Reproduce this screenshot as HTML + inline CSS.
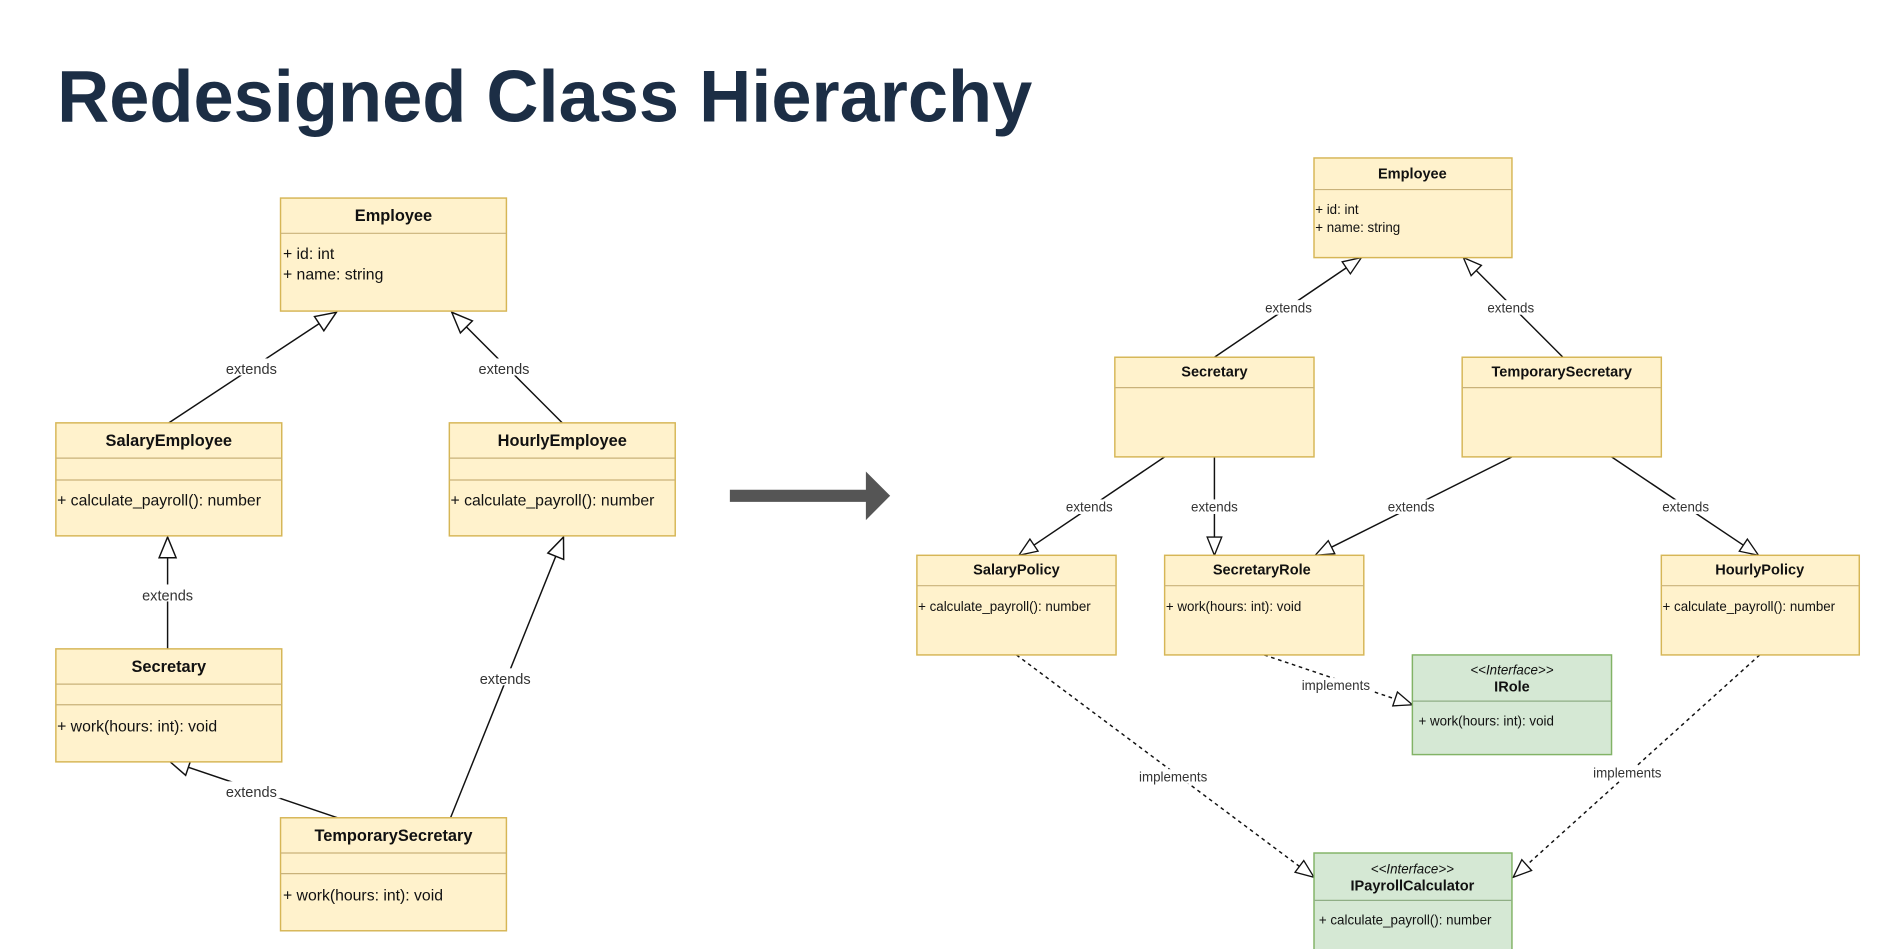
<!DOCTYPE html>
<html><head><meta charset="utf-8"><style>
html,body{margin:0;padding:0;background:#fff;width:1886px;height:949px;overflow:hidden}
svg{display:block}
text{font-family:"Liberation Sans",Arial,sans-serif;fill:#111}
.b{fill:#fff2cc;stroke:#d6b656;stroke-width:1.2}
.g{fill:#d5e8d4;stroke:#82b366;stroke-width:1.2}
.sl{stroke:#c9b27a;stroke-width:1}
.sg{stroke:#8fae85;stroke-width:1}
.e{stroke:#111;stroke-width:1.2;fill:none}
.d{stroke:#111;stroke-width:1.2;fill:none;stroke-dasharray:3 3}
.lbl{font-size:12px;fill:#333}
.lbr{font-size:11px;fill:#333}
</style></head><body>
<svg width="1886" height="949" viewBox="0 0 1553 781" preserveAspectRatio="none" xmlns="http://www.w3.org/2000/svg">
<defs>
<marker id="t" markerUnits="userSpaceOnUse" markerWidth="24" markerHeight="24" refX="18" refY="8" orient="auto" viewBox="0 0 24 16">
<path d="M1,1 L18,8 L1,15 Z" fill="#fff" stroke="#111" stroke-width="1.2"/></marker>
<marker id="ts" markerUnits="userSpaceOnUse" markerWidth="20" markerHeight="20" refX="16" refY="7" orient="auto" viewBox="0 0 20 14">
<path d="M1,1 L16,7 L1,13 Z" fill="#fff" stroke="#111" stroke-width="1.1"/></marker>
</defs>
<text x="47" y="100" font-size="60" font-weight="bold" style="fill:#1c2e45" textLength="803" lengthAdjust="spacingAndGlyphs">Redesigned Class Hierarchy</text>

<!-- left connectors -->
<line class="e" x1="139" y1="348" x2="277" y2="257" marker-end="url(#t)"/>
<line class="e" x1="463" y1="348" x2="372" y2="257" marker-end="url(#t)"/>
<line class="e" x1="138" y1="534" x2="138" y2="442" marker-end="url(#t)"/>
<line class="e" x1="278" y1="673" x2="139" y2="626" marker-end="url(#t)"/>
<line class="e" x1="371" y1="673" x2="464" y2="442" marker-end="url(#t)"/>
<g class="lbl" text-anchor="middle">
<rect x="183" y="295" width="48" height="14" fill="#fff"/><text class="lbl" x="207" y="308">extends</text>
<rect x="391" y="295" width="48" height="14" fill="#fff"/><text class="lbl" x="415" y="308">extends</text>
<rect x="114" y="481" width="48" height="14" fill="#fff"/><text class="lbl" x="138" y="494">extends</text>
<rect x="183" y="643" width="48" height="14" fill="#fff"/><text class="lbl" x="207" y="656">extends</text>
<rect x="392" y="550" width="48" height="14" fill="#fff"/><text class="lbl" x="416" y="563">extends</text>
</g>

<!-- left boxes -->
<g font-size="13">
<rect class="b" x="231" y="163" width="186" height="93"/><line class="sl" x1="231" y1="192" x2="417" y2="192"/>
<text x="324" y="182" text-anchor="middle" font-weight="bold" font-size="13.5">Employee</text>
<text x="233" y="213">+ id: int</text><text x="233" y="230">+ name: string</text>

<rect class="b" x="46" y="348" width="186" height="93"/><line class="sl" x1="46" y1="377" x2="232" y2="377"/><line class="sl" x1="46" y1="395" x2="232" y2="395"/>
<text x="139" y="367" text-anchor="middle" font-weight="bold" font-size="13.5">SalaryEmployee</text>
<text x="47" y="416">+ calculate_payroll(): number</text>

<rect class="b" x="370" y="348" width="186" height="93"/><line class="sl" x1="370" y1="377" x2="556" y2="377"/><line class="sl" x1="370" y1="395" x2="556" y2="395"/>
<text x="463" y="367" text-anchor="middle" font-weight="bold" font-size="13.5">HourlyEmployee</text>
<text x="371" y="416">+ calculate_payroll(): number</text>

<rect class="b" x="46" y="534" width="186" height="93"/><line class="sl" x1="46" y1="563" x2="232" y2="563"/><line class="sl" x1="46" y1="580" x2="232" y2="580"/>
<text x="139" y="553" text-anchor="middle" font-weight="bold" font-size="13.5">Secretary</text>
<text x="47" y="602">+ work(hours: int): void</text>

<rect class="b" x="231" y="673" width="186" height="93"/><line class="sl" x1="231" y1="702" x2="417" y2="702"/><line class="sl" x1="231" y1="719" x2="417" y2="719"/>
<text x="324" y="692" text-anchor="middle" font-weight="bold" font-size="13.5">TemporarySecretary</text>
<text x="233" y="741">+ work(hours: int): void</text>
</g>

<!-- big arrow -->
<path d="M601,403 L713,403 L713,388 L733,408 L713,428 L713,413 L601,413 Z" fill="#555"/>

<!-- right connectors -->
<line class="e" x1="1000" y1="294" x2="1121" y2="212" marker-end="url(#ts)"/>
<line class="e" x1="1287" y1="294" x2="1205" y2="212" marker-end="url(#ts)"/>
<line class="e" x1="959" y1="376" x2="839" y2="457" marker-end="url(#ts)"/>
<line class="e" x1="1000" y1="376" x2="1000" y2="457" marker-end="url(#ts)"/>
<line class="e" x1="1245" y1="376" x2="1083" y2="457" marker-end="url(#ts)"/>
<line class="e" x1="1327" y1="376" x2="1448" y2="457" marker-end="url(#ts)"/>
<line class="d" x1="1041" y1="539" x2="1163" y2="580" marker-end="url(#ts)"/>
<line class="d" x1="837" y1="539" x2="1082" y2="722" marker-end="url(#ts)"/>
<line class="d" x1="1449" y1="539" x2="1246" y2="722" marker-end="url(#ts)"/>
<g text-anchor="middle">
<rect x="1040" y="247" width="42" height="12" fill="#fff"/><text class="lbr" x="1061" y="257">extends</text>
<rect x="1223" y="247" width="42" height="12" fill="#fff"/><text class="lbr" x="1244" y="257">extends</text>
<rect x="876" y="411" width="42" height="12" fill="#fff"/><text class="lbr" x="897" y="421">extends</text>
<rect x="979" y="411" width="42" height="12" fill="#fff"/><text class="lbr" x="1000" y="421">extends</text>
<rect x="1141" y="411" width="42" height="12" fill="#fff"/><text class="lbr" x="1162" y="421">extends</text>
<rect x="1367" y="411" width="42" height="12" fill="#fff"/><text class="lbr" x="1388" y="421">extends</text>
<rect x="1068" y="558" width="64" height="12" fill="#fff"/><text class="lbr" x="1100" y="568">implements</text>
<rect x="934" y="633" width="64" height="12" fill="#fff"/><text class="lbr" x="966" y="643">implements</text>
<rect x="1308" y="630" width="64" height="12" fill="#fff"/><text class="lbr" x="1340" y="640">implements</text>
</g>

<!-- right boxes -->
<g font-size="11">
<rect class="b" x="1082" y="130" width="163" height="82"/><line class="sl" x1="1082" y1="156" x2="1245" y2="156"/>
<text x="1163" y="147" text-anchor="middle" font-weight="bold" font-size="12">Employee</text>
<text x="1083" y="176">+ id: int</text><text x="1083" y="191">+ name: string</text>

<rect class="b" x="918" y="294" width="164" height="82"/><line class="sl" x1="918" y1="319" x2="1082" y2="319"/>
<text x="1000" y="310" text-anchor="middle" font-weight="bold" font-size="12">Secretary</text>

<rect class="b" x="1204" y="294" width="164" height="82"/><line class="sl" x1="1204" y1="319" x2="1368" y2="319"/>
<text x="1286" y="310" text-anchor="middle" font-weight="bold" font-size="12">TemporarySecretary</text>

<rect class="b" x="755" y="457" width="164" height="82"/><line class="sl" x1="755" y1="482" x2="919" y2="482"/>
<text x="837" y="473" text-anchor="middle" font-weight="bold" font-size="12">SalaryPolicy</text>
<text x="756" y="503">+ calculate_payroll(): number</text>

<rect class="b" x="959" y="457" width="164" height="82"/><line class="sl" x1="959" y1="482" x2="1123" y2="482"/>
<text x="1039" y="473" text-anchor="middle" font-weight="bold" font-size="12">SecretaryRole</text>
<text x="960" y="503">+ work(hours: int): void</text>

<rect class="b" x="1368" y="457" width="163" height="82"/><line class="sl" x1="1368" y1="482" x2="1531" y2="482"/>
<text x="1449" y="473" text-anchor="middle" font-weight="bold" font-size="12">HourlyPolicy</text>
<text x="1369" y="503">+ calculate_payroll(): number</text>

<rect class="g" x="1163" y="539" width="164" height="82"/><line class="sg" x1="1163" y1="577" x2="1327" y2="577"/>
<text x="1245" y="555" text-anchor="middle" font-style="italic">&lt;&lt;Interface&gt;&gt;</text>
<text x="1245" y="569" text-anchor="middle" font-weight="bold" font-size="12">IRole</text>
<text x="1168" y="597">+ work(hours: int): void</text>

<rect class="g" x="1082" y="702" width="163" height="82"/><line class="sg" x1="1082" y1="741" x2="1245" y2="741"/>
<text x="1163" y="719" text-anchor="middle" font-style="italic">&lt;&lt;Interface&gt;&gt;</text>
<text x="1163" y="733" text-anchor="middle" font-weight="bold" font-size="12">IPayrollCalculator</text>
<text x="1086" y="761">+ calculate_payroll(): number</text>
</g>
</svg>
</body></html>
